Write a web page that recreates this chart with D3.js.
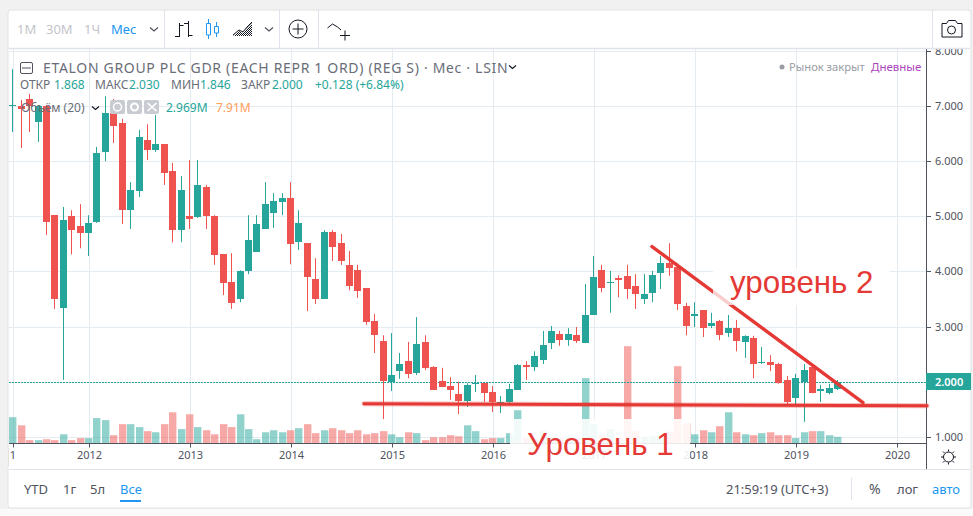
<!DOCTYPE html>
<html>
<head>
<meta charset="utf-8">
<title>ETALON GROUP</title>
<script src="https://cdn.jsdelivr.net/npm/d3@7"></script>
<style>
  html, body { margin: 0; padding: 0; background: #f1f1f1; overflow: hidden; }
  svg { display: block; }
  text { font-family: "Noto Sans", sans-serif; }
</style>
</head>
<body>
<svg id="grafico" width="973" height="516"></svg>
<script>
// monthly candles, Apr 2011 - Jun 2019
const opens = [
  7.00,7.01,7.13,6.72,7.01,5.02,3.34,5.00,4.82,4.70,
  4.90,6.17,6.87,6.69,5.11,5.46,6.38,6.20,6.31,5.82,
  4.75,5.00,4.99,5.53,5.00,4.31,3.81,3.50,4.01,4.35,
  4.77,5.06,5.26,5.33,4.53,4.51,3.86,3.50,4.71,4.51,
  4.12,4.02,3.70,3.10,2.73,2.00,2.19,2.37,2.16,2.72,
  2.27,2.01,1.92,1.77,1.65,1.97,1.97,1.81,1.60,1.63,
  1.85,2.30,2.27,2.39,2.70,2.86,2.75,2.84,2.70,3.21,
  4.02,3.79,3.88,3.92,3.73,3.50,3.61,3.97,4.15,4.08,
  3.37,3.19,3.30,3.01,3.10,2.88,2.97,2.73,2.79,2.34,
  2.36,2.32,2.03,1.70,2.00,2.27,1.83,1.79,1.868];
const highs = [
  7.67,7.11,7.22,7.01,7.02,5.02,5.17,5.11,5.22,5.02,
  6.26,7.18,7.13,6.77,5.62,6.57,6.67,6.84,6.31,5.97,
  5.73,6.02,6.02,5.57,5.02,4.31,4.33,4.02,5.02,5.02,
  5.62,5.42,5.42,5.62,5.11,4.51,4.24,4.75,4.75,4.68,
  4.37,4.12,3.70,3.23,2.84,2.88,2.52,2.72,3.17,2.84,
  2.28,2.25,2.08,2.00,1.97,2.12,1.97,1.92,1.74,1.96,
  2.32,2.37,2.55,2.92,3.01,2.92,2.97,2.99,3.77,4.28,
  4.12,4.01,3.93,4.12,3.95,3.95,4.01,4.28,4.51,4.15,
  3.43,3.44,3.30,3.25,3.12,3.21,3.12,2.84,2.83,2.63,
  2.48,2.34,2.10,2.14,2.32,2.28,1.94,1.96,2.030];
const lows = [
  6.53,6.24,6.53,6.35,4.66,3.32,2.03,4.31,4.42,4.28,
  4.88,6.00,6.33,4.86,4.77,5.35,6.02,6.17,5.57,4.53,
  4.53,4.77,4.97,4.77,4.12,3.57,3.32,3.44,3.95,4.35,
  4.77,4.79,5.02,4.13,4.39,3.28,3.41,3.50,4.19,4.12,
  3.66,3.52,3.03,2.52,1.32,1.83,2.05,2.06,2.12,2.21,
  1.85,1.90,1.67,1.41,1.54,1.81,1.63,1.45,1.43,1.61,
  1.85,2.03,2.19,2.32,2.59,2.65,2.65,2.70,2.70,3.21,
  3.62,3.25,3.53,3.50,3.32,3.41,3.44,3.68,3.92,3.30,
  2.84,2.99,2.81,2.97,2.75,2.81,2.55,2.43,2.06,2.32,
  2.19,1.96,1.57,1.57,1.27,1.79,1.63,1.77,1.846];
const closes = [
  7.02,6.96,7.01,7.01,4.90,3.50,4.93,4.75,4.70,4.88,
  6.15,6.87,6.64,5.11,5.48,6.44,6.20,6.31,5.78,4.75,
  5.48,4.95,5.57,5.00,4.30,3.79,3.43,4.01,4.57,4.86,
  5.22,5.28,5.33,4.50,4.88,3.90,3.50,4.71,4.44,4.19,
  3.73,3.64,3.08,2.84,2.01,2.12,2.32,2.14,2.68,2.25,
  1.85,1.90,1.85,1.65,1.94,1.98,1.79,1.63,1.63,1.87,
  2.30,2.27,2.47,2.66,2.92,2.75,2.86,2.73,3.21,3.90,
  3.70,3.81,3.84,3.68,3.59,3.59,3.93,4.15,4.06,3.41,
  3.01,3.23,2.97,3.06,2.84,2.97,2.73,2.83,2.32,2.36,
  2.30,1.97,1.63,2.06,2.21,1.79,1.87,1.88,2.000];
// volume, millions
const volumes = [
  11.7,8.1,1.5,1.5,1.9,1.5,4.1,1.5,2.4,2.4,
  11.3,10.4,3.7,8.6,8.6,7.3,5.5,5.0,8.6,13.9,
  6.4,13.0,7.3,5.9,4.1,8.6,7.3,13.0,6.4,1.9,
  5.0,5.9,5.0,5.9,6.8,8.6,4.6,5.9,6.8,5.9,
  4.6,5.9,4.1,4.6,5.5,4.1,2.8,5.0,4.6,1.5,
  2.8,2.8,3.7,3.2,8.1,5.5,1.9,2.4,2.4,4.6,
  14.8,2.4,2.2,5.5,3.2,2.6,2.2,2.2,29.1,8.6,
  3.7,6.4,2.4,43.3,5.5,2.8,3.2,3.2,5.3,34.4,
  9.0,4.1,5.9,5.0,7.7,13.9,5.0,4.1,3.7,4.6,
  5.0,3.7,3.7,2.4,5.0,5.5,5.5,3.7,2.969];

const preciosEje = [1, 2, 3, 4, 5, 6, 7, 8];
const mesesEje = [0, 9, 21, 33, 45, 57, 69, 81, 93, 105];
const aniosEje = ["2011", "2012", "2013", "2014", "2015", "2016", "2017", "2018", "2019", "2020"];
const ultimoPrecio = 2.000;

// the two hand drawn levels, [month index, price]
const nivel1 = [[41.7, 1.60], [108.6, 1.56]];
const nivel2 = [[75.9, 4.45], [101, 1.62]];

const verde = "#26a69a", rojo = "#ef5350", marca = "#e53935";
const gris = "#50535e", rejilla = "#e4ecf2", azul = "#2196f3", borde = "#e0e3eb";

const $svg = d3.select("#grafico");
const ancho = 973, arribaPanel = 48.5, abajoPanel = 443.5, ejeDerecha = 926;

const x = d3.scaleLinear().domain([0, 105]).range([13.3, 897.1]).interpolate(d3.interpolateRound);
const y = d3.scaleLinear().domain([1, 8]).range([436.7, 51]);
const yVol = d3.scaleLinear().domain([0, 43.3]).range([abajoPanel, 346.2]);
const columna = i => x(i) - 1;

// pattern for the area icon
const trama = $svg.append("defs").append("pattern").attr("id", "trama")
  .attr("width", 2).attr("height", 2).attr("patternUnits", "userSpaceOnUse");
trama.append("rect").attr("width", 1).attr("height", 1).attr("fill", "#131722");
trama.append("rect").attr("x", 1).attr("y", 1).attr("width", 1).attr("height", 1).attr("fill", "#131722");

// widget frame
$svg.append("rect").attr("x", 0).attr("y", 509).attr("width", ancho).attr("height", 7).attr("fill", "#fafafa");
$svg.append("rect").attr("x", 8).attr("y", 10).attr("width", 963).attr("height", 498)
  .attr("rx", 3).attr("fill", "#fff").attr("stroke", "#e2e2e2").attr("stroke-width", 1);

const panel = $svg.append("g");

// grid
panel.append("g").selectAll("line").data(preciosEje).join("line")
  .attr("x1", 9).attr("x2", ejeDerecha)
  .attr("y1", d => Math.round(y(d)) + .5).attr("y2", d => Math.round(y(d)) + .5)
  .attr("stroke", rejilla);
panel.append("g").selectAll("line").data(mesesEje).join("line")
  .attr("x1", d => x(d) + .5).attr("x2", d => x(d) + .5)
  .attr("y1", arribaPanel).attr("y2", abajoPanel)
  .attr("stroke", rejilla);

// volume
panel.append("g").selectAll("rect").data(volumes).join("rect")
  .attr("x", (d, i) => Math.max(8.5, columna(i) - 3))
  .attr("width", 7.4)
  .attr("y", d => yVol(d))
  .attr("height", d => abajoPanel - yVol(d))
  .attr("fill", (d, i) => closes[i] >= opens[i] ? verde : rojo)
  .attr("fill-opacity", .5);

// last price line
panel.append("line")
  .attr("x1", 9).attr("x2", ejeDerecha)
  .attr("y1", Math.round(y(ultimoPrecio)) + .5).attr("y2", Math.round(y(ultimoPrecio)) + .5)
  .attr("stroke", verde).attr("stroke-dasharray", "2 1");

// candles
const velas = panel.append("g").selectAll("g").data(d3.range(opens.length)).join("g")
  .attr("fill", i => closes[i] >= opens[i] ? verde : rojo);
velas.append("rect")
  .attr("x", i => columna(i)).attr("width", 1)
  .attr("y", i => y(highs[i]))
  .attr("height", i => y(lows[i]) - y(highs[i]));
velas.append("rect")
  .attr("x", i => columna(i) - 3).attr("width", 7)
  .attr("y", i => Math.round(y(Math.max(opens[i], closes[i]))))
  .attr("height", i => Math.max(1, Math.round(Math.abs(y(opens[i]) - y(closes[i])))));

// axes
const ejeY = d3.axisRight(y).tickValues(preciosEje).tickFormat(d3.format(".3f")).tickSize(5).tickPadding(4);
const gEjeY = $svg.append("g").attr("transform", `translate(${ejeDerecha},0)`).call(ejeY);
gEjeY.select(".domain").remove();
gEjeY.selectAll("line").attr("stroke", gris).attr("y1", 0).attr("transform", d => `translate(0,${Math.round(y(d)) - y(d)})`);
gEjeY.selectAll("text").attr("fill", gris).attr("font-size", 11).attr("font-family", "Noto Sans");

$svg.append("line").attr("x1", ejeDerecha + .5).attr("x2", ejeDerecha + .5).attr("y1", arribaPanel).attr("y2", 469)
  .attr("stroke", gris);

const ejeX = d3.axisBottom(x).tickValues(mesesEje).tickFormat((d, i) => aniosEje[i]).tickSize(4).tickPadding(4);
const gEjeX = $svg.append("g").attr("transform", `translate(0,${abajoPanel})`).call(ejeX);
gEjeX.select(".domain").remove();
gEjeX.selectAll("line").attr("stroke", gris);
gEjeX.selectAll("text").attr("fill", gris).attr("font-size", 11).attr("font-family", "Noto Sans");
// the first label is cut by the frame, only its last digit shows
gEjeX.selectAll("text").filter(d => d === mesesEje[0]).attr("text-anchor", "end").attr("x", 2.5);
$svg.append("line").attr("x1", 9).attr("x2", ejeDerecha).attr("y1", abajoPanel).attr("y2", abajoPanel).attr("stroke", gris);
$svg.append("rect").attr("x", 0).attr("y", 448).attr("width", 8).attr("height", 18).attr("fill", "#f1f1f1");
$svg.append("rect").attr("x", 8).attr("y", 448).attr("width", 2).attr("height", 18).attr("fill", "#fff");
$svg.append("rect").attr("x", 8).attr("y", 448).attr("width", 1).attr("height", 18).attr("fill", "#e2e2e2");

// price tag
$svg.append("rect").attr("x", ejeDerecha).attr("y", 373).attr("width", 45).attr("height", 17).attr("fill", verde);
$svg.append("text").attr("x", 935).attr("y", 385.5).attr("fill", "#fff").attr("font-size", 11).attr("font-weight", 600)
  .text(d3.format(".3f")(ultimoPrecio));

// top toolbar sits over the panel
$svg.append("rect").attr("x", 9).attr("y", 11).attr("width", 961).attr("height", 37).attr("fill", "#fff");
$svg.append("line").attr("x1", 9).attr("x2", 970).attr("y1", 48.5).attr("y2", 48.5).attr("stroke", "#e0e3eb").attr("stroke-width", 1.5);
[164.5, 279.5, 318.5, 932.5].forEach(p => {
  $svg.append("line").attr("x1", p).attr("x2", p).attr("y1", 10).attr("y2", 48).attr("stroke", borde);
});
const texto = (px, py, t, color, talla, extra) => {
  const n = $svg.append("text").attr("x", px).attr("y", py).attr("fill", color).attr("font-size", talla).text(t);
  if (extra) n.attr("text-anchor", extra);
  return n;
};
texto(17, 34, "1М", "#c3c5c9", 13);
texto(46, 34, "30М", "#c3c5c9", 13);
texto(84, 34, "1Ч", "#c3c5c9", 13);
texto(111, 34, "Мес", azul, 13);

const trazo = (d, color, grueso) => $svg.append("path").attr("d", d).attr("fill", "none")
  .attr("stroke", color || "#131722").attr("stroke-width", grueso || 1);
// chevrons
trazo("M150 27.5l4 3.5l4-3.5", "#50535e", 1.2);
trazo("M265 27.5l4 3.5l4-3.5", "#50535e", 1.2);
trazo("M509 65.5l3.5 3l3.5-3", "#131722", 1.2);
trazo("M92 106.5l3.5 3l3.5-3", "#131722", 1.2);
// bars icon
trazo("M179.5 23v14M175 36.5h4.5M179.5 25.500h4M188.500 21v16M184 23.500h4.500M188.500 35.500h4");
// candle icon
trazo("M208.500 19v4M208.500 35v4M216.500 22v4M216.500 33v4", azul);
trazo("M206.500 23.500h4v11.500h-4z M214.500 26.500h4v6.500h-4z", azul);
// area icon
$svg.append("path").attr("d", "M233 36l6-5l4 2l4-5l5-5v13z").attr("fill", "url(#trama)");
trazo("M233 35l6-5l4 2l4-5l5-5", "#131722");
// plus circle
$svg.append("circle").attr("cx", 298).attr("cy", 29).attr("r", 9).attr("fill", "none").attr("stroke", "#131722");
trazo("M292.5 29h11M298 23.500v11");
// indicators icon
trazo("M327.500 28l5-4l5 3l3.500 3");
trazo("M340 35.500h10M345 30.500v10");
// camera
trazo("M942 23.500h4.500l2-3h7l2 3h4.500v13.500h-20z");
$svg.append("circle").attr("cx", 951.500).attr("cy", 30).attr("r", 4).attr("fill", "none").attr("stroke", "#131722");

// legend
$svg.append("rect").attr("x", 20.5).attr("y", 62.5).attr("width", 12).attr("height", 11).attr("rx", 1.5).attr("fill", "#fff").attr("stroke", "#50535e");
trazo("M22 68h9", "#50535e");
texto(43, 72.5, "ETALON GROUP PLC GDR (EACH REPR 1 ORD) (REG S) · Мес · LSIN", "#6a6d78", 14).attr("letter-spacing", .68);
$svg.append("circle").attr("cx", 782).attr("cy", 67).attr("r", 2.5).attr("fill", "#9a9da5");
texto(789, 71, "Рынок закрыт", "#9a9da5", 11.2);
texto(871, 71, "Дневные", "#ab47bc", 11.5);

texto(20, 89, "ОТКР", "#6a6d78", 12);
texto(54, 89, "1.868", verde, 12);
texto(95, 89, "МАКС", "#6a6d78", 12);
texto(129, 89, "2.030", verde, 12);
texto(171, 89, "МИН", "#6a6d78", 12);
texto(200, 89, "1.846", verde, 12);
texto(241, 89, "ЗАКР", "#6a6d78", 12);
texto(272, 89, "2.000", verde, 12);
texto(315, 89, "+0.128 (+6.84%)", verde, 12);
texto(21, 112, "Объём (20)", "#6a6d78", 12);
[110, 127, 144].forEach(p => {
  $svg.append("rect").attr("x", p).attr("y", 100).attr("width", 15).attr("height", 14).attr("rx", 2).attr("fill", "#c9cbd3");
});
$svg.append("circle").attr("cx", 117.5).attr("cy", 107).attr("r", 4).attr("fill", "none").attr("stroke", "#fff").attr("stroke-width", 1.5);
$svg.append("circle").attr("cx", 134.5).attr("cy", 107).attr("r", 3.5).attr("fill", "none").attr("stroke", "#fff").attr("stroke-width", 2);
trazo("M147.500 103l9 8M156.500 103l-9 8", "#fff", 1.6);
texto(166, 112, "2.969M", verde, 12);
texto(216, 112, "7.91M", "#ff9e58", 12);

// sun button
$svg.append("circle").attr("cx", 948.5).attr("cy", 457).attr("r", 5).attr("fill", "none").attr("stroke", "#131722");
trazo("M948.5 449.500v2M948.5 462.500v2M941 457h2M954 457h2M943 451.500l1.500 1.500M954 451.500l-1.500 1.500M943 462.500l1.500-1.500M954 462.500l-1.500-1.500");

// bottom toolbar
$svg.append("line").attr("x1", 9).attr("x2", 970).attr("y1", 469.5).attr("y2", 469.5).attr("stroke", borde);
texto(24, 494, "YTD", "#50535e", 13);
texto(63, 494, "1г", "#50535e", 13);
texto(90, 494, "5л", "#50535e", 13);
texto(120, 494, "Все", azul, 13);
$svg.append("rect").attr("x", 120).attr("y", 500).attr("width", 21).attr("height", 2).attr("fill", azul);
texto(726, 494, "21:59:19 (UTC+3)", "#50535e", 13);
$svg.append("line").attr("x1", 851.5).attr("x2", 851.5).attr("y1", 478).attr("y2", 500).attr("stroke", borde);
texto(869, 494, "%", "#50535e", 14);
texto(897, 494, "лог", "#50535e", 13);
texto(932, 494, "авто", azul, 13);

// annotations: white label boxes hide what is behind them, then the lines and text
$svg.append("rect").attr("x", 510).attr("y", 419).attr("width", 180).attr("height", 46).attr("fill", "#fff").attr("fill-opacity", .88);
$svg.append("rect").attr("x", 713).attr("y", 268).attr("width", 177).attr("height", 37).attr("fill", "#fff").attr("fill-opacity", .88);

const linea = d3.line().x(d => x(d[0])).y(d => y(d[1]));
const marcaLinea = (datos, grueso, opacidad) => $svg.append("path")
  .attr("d", linea(datos)).attr("fill", "none").attr("stroke", marca)
  .attr("stroke-width", grueso).attr("stroke-opacity", opacidad).attr("stroke-linecap", "round");
marcaLinea(nivel1, 5, .35);
marcaLinea(nivel1, 3, 1);
marcaLinea(nivel2, 3.4, 1);

// the faded bit of the trend line under the label box
$svg.append("rect").attr("x", 713).attr("y", 268).attr("width", 20).attr("height", 37).attr("fill", "#fff").attr("fill-opacity", .75);

const etiqueta = (px, py, t) => $svg.append("text").attr("x", px).attr("y", py).attr("fill", marca)
  .attr("font-size", 31.3).style("font-family", "Liberation Sans").text(t);
etiqueta(527, 455, "Уровень 1");
etiqueta(730, 293, "уровень 2");
</script>
</body>
</html>
